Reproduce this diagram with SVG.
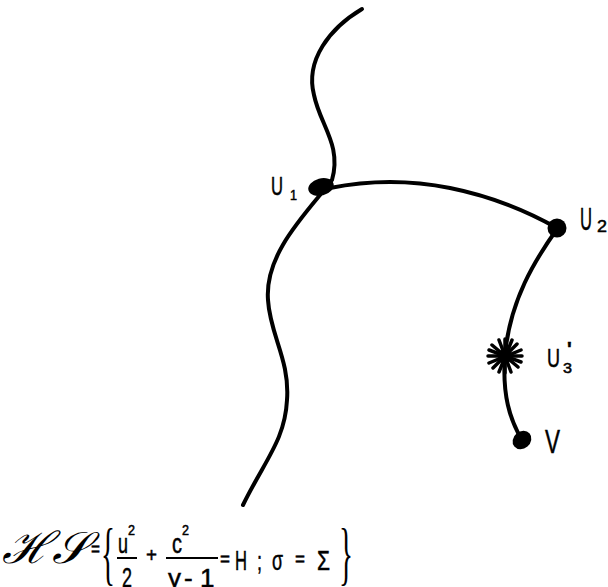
<svg xmlns="http://www.w3.org/2000/svg" width="608" height="587" viewBox="0 0 608 587">
<style>
.c{fill:none;stroke:#000;stroke-width:4;stroke-linecap:round;stroke-linejoin:round}
.d{fill:#000}
.t{font-family:"Liberation Sans","DejaVu Sans",sans-serif;fill:#000;stroke:#000;stroke-width:0.5}
.s{font-family:"DejaVu Serif","Liberation Serif",serif;font-style:italic;fill:#000}
.b{font-family:"Liberation Serif","DejaVu Serif",serif;fill:#000}
.sp{stroke:#000;stroke-width:3.5;stroke-linecap:round}
.fl{stroke:#000;stroke-width:2}
</style>
<rect width="608" height="587" fill="#fff"/>
<g id="connectors">
<path class="c" d="M 362 9 C 330 28, 305 60, 314 95 C 320 125, 342 145, 332 180 L 324 187"/>
<path class="c" d="M 320 195 C 295 225, 265 260, 268 300 C 270 335, 290 360, 287 400 C 285 440, 265 460, 243 505"/>
<path class="c" d="M 330 188 C 370 180, 410 180, 450 188 C 490 196, 525 210, 557 228"/>
<path class="c" d="M 557 229 C 535 260, 510 300, 505 355 C 502 395, 510 420, 522 440"/>
</g>
<g id="U1">
<ellipse class="d" cx="321" cy="187" rx="13" ry="8.5" transform="rotate(-15 321 187)"/>
<text class="t" x="271" y="195" font-size="25" textLength="12" lengthAdjust="spacingAndGlyphs">U</text>
<text class="t" x="290" y="200" font-size="14" textLength="7" lengthAdjust="spacingAndGlyphs">1</text>
</g>
<g id="U2">
<circle class="d" cx="557" cy="228" r="9.5"/>
<text class="t" x="580" y="230" font-size="31" textLength="12" lengthAdjust="spacingAndGlyphs">U</text>
<text class="t" x="597" y="232" font-size="17" textLength="10" lengthAdjust="spacingAndGlyphs">2</text>
</g>
<g id="U3">
<g transform="translate(505 356)">
<line class="sp" x1="-17" y1="0" x2="17" y2="0"/>
<line class="sp" x1="0" y1="-17" x2="0" y2="17"/>
<line class="sp" x1="-13" y1="-11" x2="13" y2="11"/>
<line class="sp" x1="-12" y1="12" x2="12" y2="-12"/>
<line class="sp" x1="-16" y1="-6" x2="16" y2="6"/>
<line class="sp" x1="-16" y1="7" x2="16" y2="-6"/>
<line class="sp" x1="-6" y1="-16" x2="6" y2="16"/>
<line class="sp" x1="7" y1="-16" x2="-6" y2="16"/>
<circle class="d" r="7"/>
</g>
<text class="t" x="547" y="367" font-size="26" textLength="13" lengthAdjust="spacingAndGlyphs">U</text>
<text class="t" x="563" y="373" font-size="15" textLength="9" lengthAdjust="spacingAndGlyphs">3</text>
<text class="t" x="567" y="356" font-size="20" font-weight="bold">'</text>
</g>
<g id="V">
<ellipse class="d" cx="522" cy="440" rx="10" ry="8.5" transform="rotate(-40 522 440)"/>
<text class="t" x="545" y="453" font-size="34" textLength="15" lengthAdjust="spacingAndGlyphs">V</text>
</g>
<g id="formula">
<text class="s" x="2" y="563" font-size="44" textLength="86" lengthAdjust="spacingAndGlyphs">ℋ𝒮</text>
<text class="t" x="91" y="556" font-size="20" textLength="9" lengthAdjust="spacingAndGlyphs">=</text>
<text class="b" x="101" y="577" font-size="70" textLength="14" lengthAdjust="spacingAndGlyphs">{</text>
<text class="t" x="118" y="553" font-size="28" textLength="10" lengthAdjust="spacingAndGlyphs">u</text>
<text class="t" x="128" y="535" font-size="14" textLength="7" lengthAdjust="spacingAndGlyphs">2</text>
<line class="fl" x1="117" y1="558" x2="137" y2="558"/>
<text class="t" x="122" y="587" font-size="28" textLength="10" lengthAdjust="spacingAndGlyphs">2</text>
<text class="t" x="146" y="562" font-size="20" textLength="11" lengthAdjust="spacingAndGlyphs">+</text>
<text class="t" x="172" y="553" font-size="28" textLength="10" lengthAdjust="spacingAndGlyphs">c</text>
<text class="t" x="182" y="535" font-size="14" textLength="7" lengthAdjust="spacingAndGlyphs">2</text>
<line class="fl" x1="166" y1="558" x2="218" y2="558"/>
<text class="t" y="587" font-size="26"><tspan x="168">γ</tspan><tspan x="184">-</tspan><tspan x="200">1</tspan></text>
<text class="t" x="220" y="566" font-size="20" textLength="10" lengthAdjust="spacingAndGlyphs">=</text>
<text class="t" x="235" y="570" font-size="28" textLength="12" lengthAdjust="spacingAndGlyphs">H</text>
<text class="t" x="257" y="570" font-size="26" textLength="5" lengthAdjust="spacingAndGlyphs">;</text>
<text class="t" x="272" y="570" font-size="28" textLength="11" lengthAdjust="spacingAndGlyphs">σ</text>
<text class="t" x="295" y="566" font-size="20" textLength="10" lengthAdjust="spacingAndGlyphs">=</text>
<text class="t" x="317" y="570" font-size="28" textLength="13" lengthAdjust="spacingAndGlyphs">Σ</text>
<text class="b" x="339" y="577" font-size="70" textLength="14" lengthAdjust="spacingAndGlyphs">}</text>
</g>
</svg>
